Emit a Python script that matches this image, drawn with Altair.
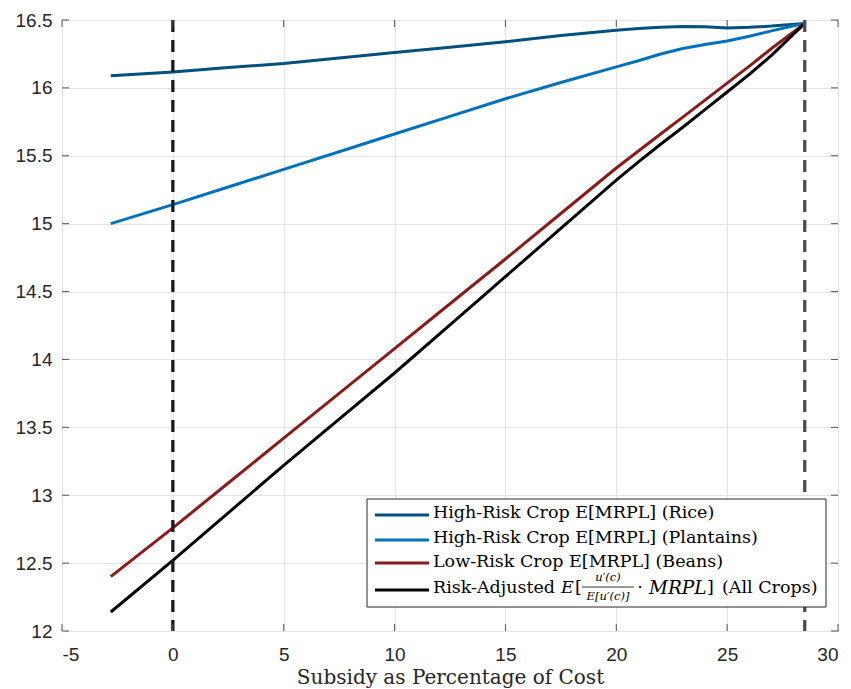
import altair as alt
import pandas as pd

# ---- data ----
subsidy = [-2.8, 0, 2.5, 5, 7.5, 10, 12.5, 15, 17.5, 20, 21, 22, 23, 24, 25, 26, 27, 28.5]
rice = [16.09, 16.117, 16.15, 16.18, 16.22, 16.26, 16.30, 16.34, 16.385, 16.425, 16.438, 16.447,
        16.452, 16.45, 16.442, 16.446, 16.455, 16.475]
plantains = [15.00, 15.14, 15.27, 15.40, 15.53, 15.66, 15.79, 15.92, 16.04, 16.155, 16.20, 16.25,
             16.29, 16.32, 16.345, 16.38, 16.42, 16.475]
beans = [12.40, 12.76, 13.09, 13.42, 13.75, 14.08, 14.41, 14.74, 15.075, 15.41, 15.535, 15.66,
         15.785, 15.91, 16.035, 16.16, 16.29, 16.475]
risk_adj = [12.14, 12.52, 12.87, 13.22, 13.56, 13.90, 14.255, 14.61, 14.965, 15.32, 15.455, 15.585,
            15.71, 15.84, 15.97, 16.10, 16.24, 16.475]

series_names = ["Rice", "Plantains", "Beans", "RiskAdj"]
series_colors = ["#01507f", "#0072bd", "#8c1a1a", "#000000"]
legend_labels = ["High-Risk Crop E[MRPL] (Rice)", "High-Risk Crop E[MRPL] (Plantains)",
                 "Low-Risk Crop E[MRPL] (Beans)", "Risk-Adjusted"]

vlines = [0, 28.5]
vline_colors = ["#1a1a1a", "#4d4d4d"]

x_ticks = [-5, 0, 5, 10, 15, 20, 25, 30]
y_ticks = [12, 12.5, 13, 13.5, 14, 14.5, 15, 15.5, 16, 16.5]

W, H = 776, 611
AX = "#555555"
SANS = "Liberation Sans"
SERIF = "DejaVu Serif"

rows = []
for name, vals in zip(series_names, [rice, plantains, beans, risk_adj]):
    for xv, yv in zip(subsidy, vals):
        rows.append({"series": name, "x": xv, "y": yv})
df = pd.DataFrame(rows)

xs = alt.Scale(domain=[-5, 30], nice=False)
ys = alt.Scale(domain=[12, 16.5], nice=False)

base_grid = alt.Chart(pd.DataFrame({"x": x_ticks})).mark_rule(opacity=0).encode(
    x=alt.X("x:Q", scale=xs,
            axis=alt.Axis(values=x_ticks, grid=True, gridColor="#e3e3e3", domain=False,
                          ticks=False, tickSize=0, labelPadding=14, labelFontSize=19,
                          labelFont=SANS, labelColor="#262626", labelExpr="'' + datum.value",
                          title="Subsidy as Percentage of Cost", titleFont=SERIF,
                          titleFontSize=20, titleFontWeight="normal", titleColor="#262626",
                          titlePadding=3)),
)
base_ygrid = alt.Chart(pd.DataFrame({"y": y_ticks})).mark_rule(opacity=0).encode(
    y=alt.Y("y:Q", scale=ys,
            axis=alt.Axis(values=y_ticks, grid=True, gridColor="#e3e3e3", domain=False,
                          ticks=False, tickSize=0, labelPadding=10, labelFontSize=19,
                          labelFont=SANS, labelColor="#262626", format="~g", title=None)),
)

lines = alt.Chart(df).mark_line(strokeWidth=3).encode(
    x=alt.X("x:Q", scale=xs),
    y=alt.Y("y:Q", scale=ys),
    color=alt.Color("series:N", scale=alt.Scale(domain=series_names, range=series_colors),
                    legend=None),
    order=alt.Order("x:Q"),
)

vdf = pd.DataFrame({"x": vlines, "c": vline_colors})
dashed = alt.Chart(vdf).mark_rule(strokeWidth=3.3, strokeDash=[12, 8]).encode(
    x=alt.X("x:Q", scale=xs),
    color=alt.Color("c:N", scale=None),
)

# inward ticks (MATLAB box style)
xt = pd.DataFrame({"x": x_ticks})
yt = pd.DataFrame({"y": y_ticks})
tick_b = alt.Chart(xt).mark_rule(color=AX, strokeWidth=1).encode(
    x=alt.X("x:Q", scale=xs), y=alt.value(H), y2=alt.value(H - 7))
tick_t = alt.Chart(xt).mark_rule(color=AX, strokeWidth=1).encode(
    x=alt.X("x:Q", scale=xs), y=alt.value(0), y2=alt.value(7))
tick_l = alt.Chart(yt).mark_rule(color=AX, strokeWidth=1).encode(
    y=alt.Y("y:Q", scale=ys), x=alt.value(0), x2=alt.value(7))
tick_r = alt.Chart(yt).mark_rule(color=AX, strokeWidth=1).encode(
    y=alt.Y("y:Q", scale=ys), x=alt.value(W - 7), x2=alt.value(W))

# ---- legend box (decoration) ----
LX0, LX1, LY0, LY1 = 305, 764, 479, 587
line_y = [495, 520, 543, 570]
text_y = [493, 518, 542, 568]
one = pd.DataFrame({"a": [0]})
box = alt.Chart(one).mark_rect(fill="white", stroke="#262626", strokeWidth=1).encode(
    x=alt.value(LX0), x2=alt.value(LX1), y=alt.value(LY0), y2=alt.value(LY1))
leg_layers = [box]
for i, (lab, col) in enumerate(zip(legend_labels, series_colors)):
    leg_layers.append(alt.Chart(one).mark_rule(color=col, strokeWidth=3).encode(
        x=alt.value(313), x2=alt.value(367), y=alt.value(line_y[i])))
    leg_layers.append(alt.Chart(one).mark_text(
        text=lab, font=SERIF, fontSize=17.5, align="left", baseline="middle", color="#000").encode(
        x=alt.value(371), y=alt.value(text_y[i])))

ry = text_y[3]
def txt(t, x, y, size=17.5, style="normal", align="left"):
    return alt.Chart(one).mark_text(text=t, font=SERIF, fontSize=size, fontStyle=style,
                                    align=align, baseline="middle", color="#000").encode(
        x=alt.value(x), y=alt.value(y))

leg_layers += [
    txt("E", 499, ry, style="italic"),
    txt("[", 513, ry),
    txt("u′(c)", 546, ry - 10, size=11.5, style="italic", align="center"),
    alt.Chart(one).mark_rule(color="#000", strokeWidth=0.8).encode(
        x=alt.value(520), x2=alt.value(572), y=alt.value(ry - 1)),
    txt("E[u′(c)]", 546, ry + 9, size=11.5, style="italic", align="center"),
    txt("·", 578, ry, align="center"),
    txt("MRPL", 587, ry, size=18.5, style="italic"),
    txt("]", 645, ry),
    txt("(All Crops)", 660, ry),
]

chart = alt.layer(base_grid, base_ygrid, lines, dashed, tick_b, tick_t, tick_l, tick_r,
                  *leg_layers).properties(
    width=W, height=H,
    autosize=alt.AutoSizeParams(type="none"),
    padding={"left": 62, "top": 20, "right": 13, "bottom": 58},
).configure_view(stroke=AX, strokeWidth=1).configure(background="white")

chart.save("out.html", embed_options={"renderer": "svg", "actions": False})
